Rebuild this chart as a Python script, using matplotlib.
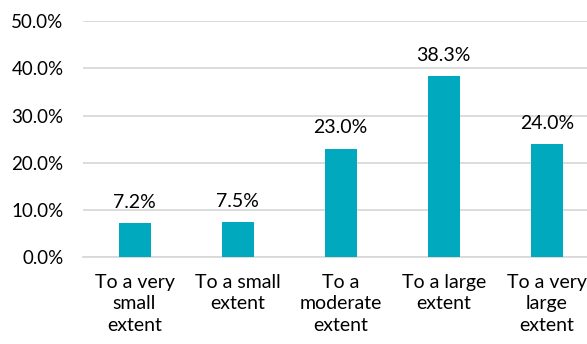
import matplotlib.pyplot as plt
import numpy as np

plt.rcParams['font.family'] = ['Lato', 'DejaVu Sans']

categories = ['To a very\nsmall\nextent', 'To a small\nextent', 'To a\nmoderate\nextent',
              'To a large\nextent', 'To a very\nlarge\nextent']
values = [7.2, 7.5, 23.0, 38.3, 24.0]

fig = plt.figure(figsize=(5.87, 3.44), dpi=100)
ax = fig.add_axes([0.1414, 0.2515, 0.8586, 0.6875])

x = np.arange(len(categories))
ax.bar(x, values, width=0.31, color='#00A9BD', zorder=3)

# value labels above the bars
for xi, v in zip(x, values):
    ax.text(xi, v + 2.6, f'{v:.1f}%', ha='center', va='bottom', fontsize=14, color='black')

ax.set_ylim(0, 50)
ax.set_xlim(-0.5, 4.39)
ax.set_yticks(np.arange(0, 51, 10))
ax.set_yticklabels([f'{t:.1f}%' for t in np.arange(0, 51, 10)], fontsize=13.5, color='black')
ax.set_xticks(x)
ax.set_xticklabels(categories, fontsize=14, color='black', linespacing=1.3)
ax.tick_params(length=0)
ax.tick_params(axis='y', pad=14)
ax.tick_params(axis='x', pad=12)

ax.grid(axis='y', color='#d9d9d9', linewidth=1.3, zorder=0)
for s in ['top', 'right', 'left']:
    ax.spines[s].set_visible(False)
ax.spines['bottom'].set_color('#d9d9d9')
ax.spines['bottom'].set_linewidth(1.3)

fig.savefig('out.png', dpi=100)
